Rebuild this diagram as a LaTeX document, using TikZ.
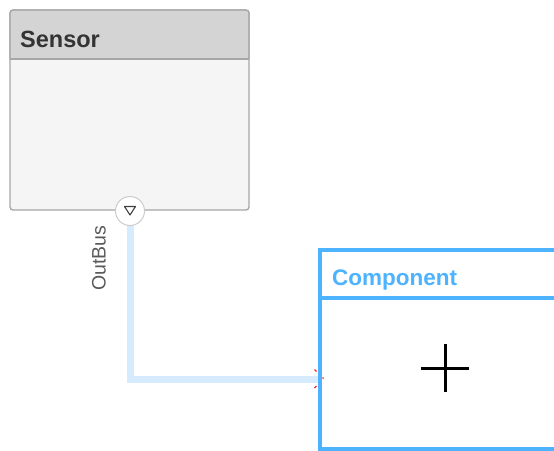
\documentclass[tikz,border=0pt]{standalone}
\usepackage{fontspec}
\setmainfont{Liberation Sans}
\begin{document}
\begin{tikzpicture}[x=1pt,y=-1pt,
  sensorbox/.style={draw=black!35, line width=1.3pt, fill=black!4, rounded corners=3pt, minimum width=239pt, minimum height=200pt, inner sep=0pt},
  title/.style={font=\bfseries\fontsize{23.5}{23.5}\selectfont, anchor=west, inner sep=0pt},
  compcol/.style={color=compblue, font=\bfseries\fontsize{22.5}{22.5}\selectfont},
  bus/.style={draw=busblue, line width=7pt},
  portc/.style={circle, draw=black!20, line width=1pt, fill=white, minimum size=29pt, inner sep=0pt},
  redmark/.style={draw=red!85, line width=1.2pt}
]
\definecolor{compblue}{HTML}{4DB3FF}
\definecolor{busblue}{HTML}{D6EBFD}
\useasboundingbox (0,0) rectangle (554,450);
% sensor block
\node[sensorbox] (sensor) at (129.5,110) {};
\fill[black!17, rounded corners=3pt] (10.7,59) -- (10.7,10.7) -- (248.3,10.7) -- (248.3,59) -- cycle;
\draw[black!35, line width=1.3pt, rounded corners=3pt] (10,59) -- (10,10) -- (249,10) -- (249,59);
\draw[black!35, line width=1.5pt] (10,59) -- (249,59);
\node[title, text=black!80] (sensortxt) at (20,39) {Sensor};
% connector
\coordinate (inport) at (318,379);
\coordinate (portbot) at (130,222);
\draw[bus] (portbot) |- (inport);
% port
\node[portc] (port) at (130,211) {};
\draw[black!75, line width=1.1pt, line join=round] (124.5,206.5) -- (135.5,206.5) -- (130,215) -- cycle;
\node[rotate=90, text=black!65, font=\fontsize{19.5}{19.5}\selectfont, inner sep=0pt] (outbus) at (99,258) {OutBus};
% component
\begin{scope}
\clip (0,0) rectangle (554,450);
\node[draw=compblue, line width=4pt, fill=white, minimum width=250pt, minimum height=199pt, inner sep=0pt, anchor=north west] (comp) at (318,248) {};
\draw[compblue, line width=4pt] (318,298) -- (570,298);
\end{scope}
\node[title, compcol] (comptxt) at (332,280) {Component};
% plus
\coordinate (plusc) at (445,368);
\draw[black, line width=3pt] ([xshift=-24pt]plusc) -- ([xshift=24pt]plusc);
\draw[black, line width=3pt] ([yshift=24pt]plusc) -- ([yshift=-24pt]plusc);
% red marks at the end of the connector
\draw[redmark] (314.5,369.5) -- (316.5,371.5);
\draw[redmark] (314.5,388) -- (316.5,386);
\draw[redmark] (322.5,377.5) -- (323.5,378.5);
\end{tikzpicture}
\end{document}
